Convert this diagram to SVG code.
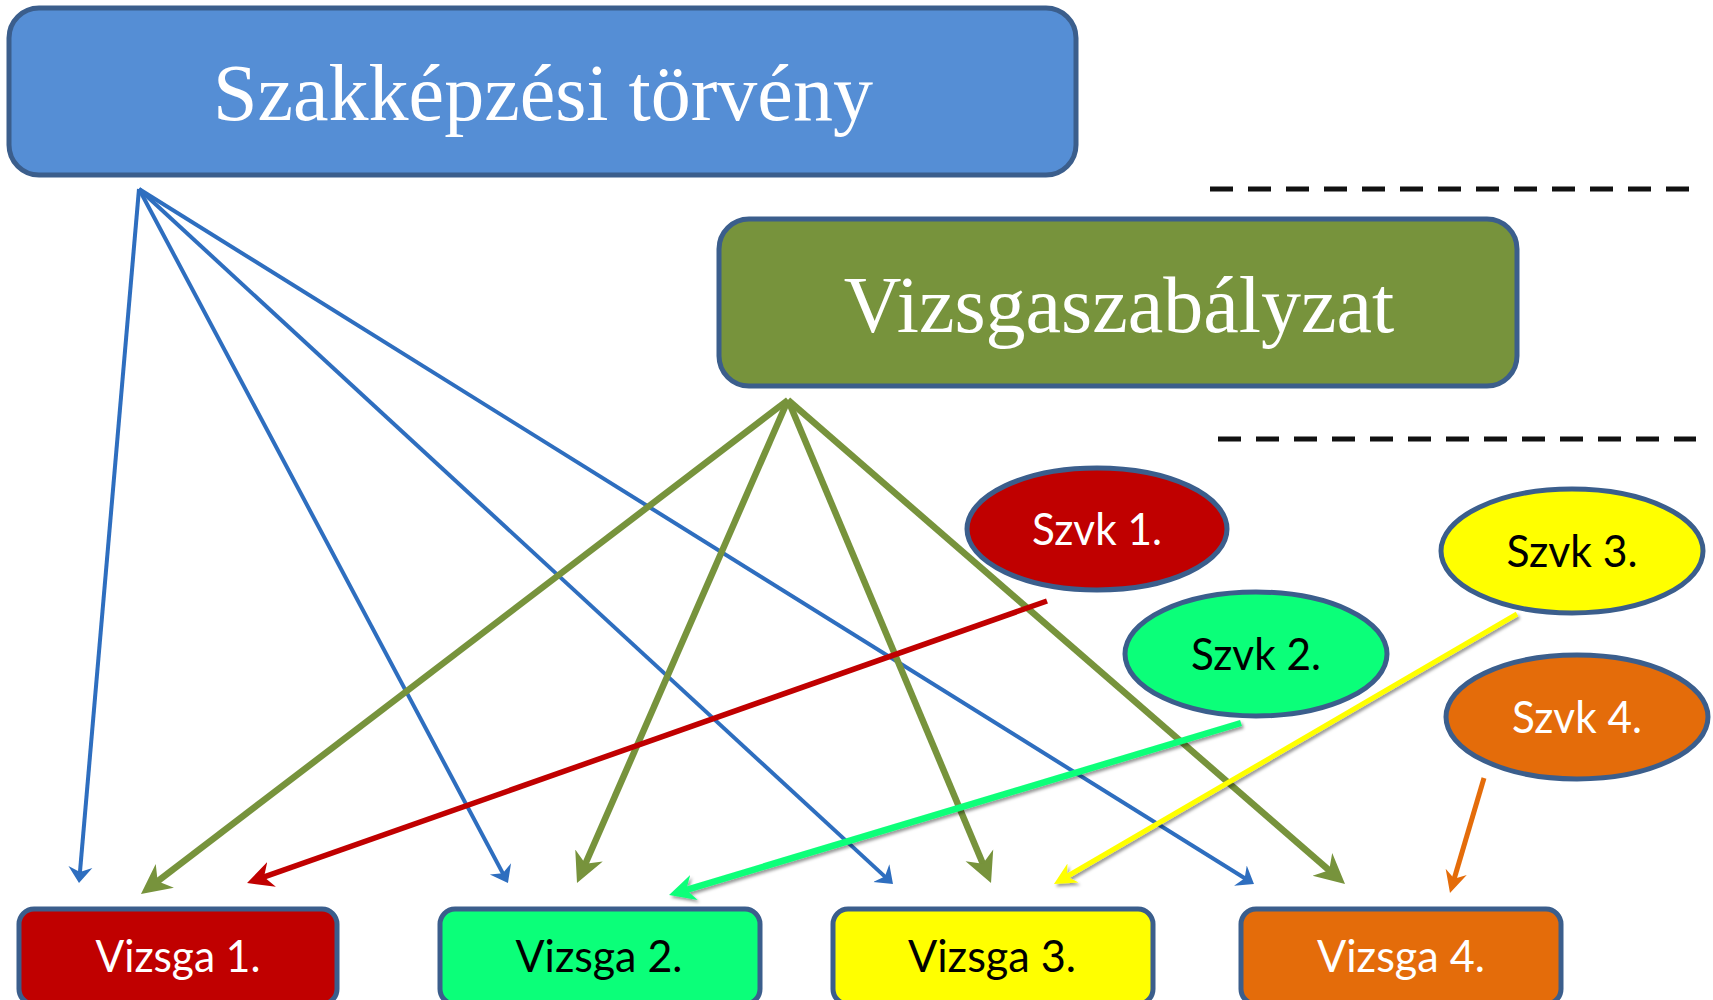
<svg xmlns="http://www.w3.org/2000/svg" width="1713" height="1000" viewBox="0 0 1713 1000">
<style>
.node{stroke:#3B5E8C;stroke-width:5}
.serif{font-family:"Liberation Serif","Times New Roman",serif;font-size:80px;fill:#FFFFFF}
.sans{font-family:Lato,"Open Sans",sans-serif;font-size:44px}
.conn{fill:none;stroke-linecap:butt}
.dash{stroke:#111111;stroke-width:5;stroke-dasharray:23 15;fill:none}
</style>
<defs>
<filter id="sh" x="-10%" y="-10%" width="120%" height="130%">
<feDropShadow dx="2" dy="2.5" stdDeviation="1.5" flood-color="#000000" flood-opacity="0.4"/>
</filter>
<marker id="mBlue" markerUnits="userSpaceOnUse" markerWidth="20" markerHeight="28" viewBox="0 -14 20 28" refX="8" refY="0" orient="auto"><path d="M0,-12 L16,0 L0,12 L5,0 z" fill="#2E6EBF"/></marker>
<marker id="mOlive" markerUnits="userSpaceOnUse" markerWidth="34" markerHeight="34" viewBox="0 -17 34 34" refX="15" refY="0" orient="auto"><path d="M0,-15 L30,0 L0,15 L9,0 z" fill="#77933C"/></marker>
<marker id="mRed" markerUnits="userSpaceOnUse" markerWidth="30" markerHeight="30" viewBox="0 -15 30 30" refX="13" refY="0" orient="auto"><path d="M0,-13 L26,0 L0,13 L8,0 z" fill="#C00000"/></marker>
<marker id="mGreen" markerUnits="userSpaceOnUse" markerWidth="30" markerHeight="30" viewBox="0 -15 30 30" refX="13" refY="0" orient="auto"><path d="M0,-13 L26,0 L0,13 L8,0 z" fill="#0BFF79"/></marker>
<marker id="mYellow" markerUnits="userSpaceOnUse" markerWidth="26" markerHeight="26" viewBox="0 -13 26 26" refX="11" refY="0" orient="auto"><path d="M0,-11 L22,0 L0,11 L7,0 z" fill="#FFFF00"/></marker>
<marker id="mOrange" markerUnits="userSpaceOnUse" markerWidth="26" markerHeight="26" viewBox="0 -13 26 26" refX="11" refY="0" orient="auto"><path d="M0,-11 L22,0 L0,11 L7,0 z" fill="#E46C0A"/></marker>
</defs>
<rect width="1713" height="1000" fill="#FFFFFF"/>

<g id="separators">
<line class="dash" x1="1210" y1="189" x2="1692" y2="189"/>
<line class="dash" x1="1218" y1="439" x2="1696" y2="439"/>
</g>

<g id="connectors">
<g stroke="#2E6EBF" stroke-width="4" class="conn" marker-end="url(#mBlue)">
<line x1="139" y1="189" x2="79.7" y2="875"/>
<line x1="139" y1="189" x2="504.2" y2="875.9"/>
<line x1="139" y1="189" x2="887.1" y2="878.6"/>
<line x1="139" y1="189" x2="1247.2" y2="879.8"/>
</g>
<g stroke="#77933C" stroke-width="6.5" class="conn" marker-end="url(#mOlive)">
<line x1="788" y1="400" x2="152.9" y2="884.9"/>
<line x1="788" y1="400" x2="583" y2="869.3"/>
<line x1="788" y1="400" x2="985.2" y2="869.2"/>
<line x1="788" y1="400" x2="1333.7" y2="874.2"/>
</g>
<line class="conn" stroke="#C00000" stroke-width="5.5" x1="1047" y1="601" x2="259.3" y2="878.7" marker-end="url(#mRed)"/>
<line class="conn" stroke="#0BFF79" stroke-width="6.5" x1="1241" y1="723" x2="681.5" y2="891.3" marker-end="url(#mGreen)" filter="url(#sh)"/>
<line class="conn" stroke="#FFFF00" stroke-width="5" x1="1517" y1="614" x2="1063.5" y2="878.5" marker-end="url(#mYellow)" filter="url(#sh)"/>
<line class="conn" stroke="#E46C0A" stroke-width="5" x1="1484" y1="778" x2="1453.1" y2="882.5" marker-end="url(#mOrange)"/>
</g>

<g id="szakkepzesi">
<rect class="node" x="9" y="8" width="1067" height="167" rx="30" fill="#558ED5"/>
<text class="serif" x="543" y="120" text-anchor="middle">Szakképzési törvény</text>
</g>
<g id="vizsgaszabalyzat">
<rect class="node" x="719" y="219" width="798" height="167" rx="30" fill="#77933C"/>
<text class="serif" x="1119" y="332" text-anchor="middle">Vizsgaszabályzat</text>
</g>

<g id="szvk1">
<ellipse class="node" cx="1097" cy="529" rx="130" ry="61" fill="#C00000"/>
<text class="sans" x="1097" y="545" text-anchor="middle" fill="#FFFFFF" textLength="130" lengthAdjust="spacingAndGlyphs">Szvk 1.</text>
</g>
<g id="szvk2">
<ellipse class="node" cx="1256" cy="654" rx="131" ry="62" fill="#0BFF79"/>
<text class="sans" x="1256" y="670" text-anchor="middle" fill="#000000" textLength="130" lengthAdjust="spacingAndGlyphs">Szvk 2.</text>
</g>
<g id="szvk3">
<ellipse class="node" cx="1572" cy="551" rx="131" ry="62" fill="#FFFF00"/>
<text class="sans" x="1572" y="567" text-anchor="middle" fill="#000000" textLength="131" lengthAdjust="spacingAndGlyphs">Szvk 3.</text>
</g>
<g id="szvk4">
<ellipse class="node" cx="1577" cy="717" rx="131" ry="62" fill="#E46C0A"/>
<text class="sans" x="1577" y="733" text-anchor="middle" fill="#FFFFFF" textLength="130" lengthAdjust="spacingAndGlyphs">Szvk 4.</text>
</g>

<g id="vizsga1">
<rect class="node" x="19" y="909" width="318" height="95" rx="15" fill="#C00000"/>
<text class="sans" x="178" y="972" text-anchor="middle" fill="#FFFFFF" textLength="165" lengthAdjust="spacingAndGlyphs">Vizsga 1.</text>
</g>
<g id="vizsga2">
<rect class="node" x="440" y="909" width="320" height="95" rx="15" fill="#0BFF79"/>
<text class="sans" x="599" y="972" text-anchor="middle" fill="#000000" textLength="167" lengthAdjust="spacingAndGlyphs">Vizsga 2.</text>
</g>
<g id="vizsga3">
<rect class="node" x="833" y="909" width="320" height="95" rx="15" fill="#FFFF00"/>
<text class="sans" x="992" y="972" text-anchor="middle" fill="#000000" textLength="168" lengthAdjust="spacingAndGlyphs">Vizsga 3.</text>
</g>
<g id="vizsga4">
<rect class="node" x="1241" y="909" width="320" height="95" rx="15" fill="#E46C0A"/>
<text class="sans" x="1401" y="972" text-anchor="middle" fill="#FFFFFF" textLength="168" lengthAdjust="spacingAndGlyphs">Vizsga 4.</text>
</g>
</svg>
